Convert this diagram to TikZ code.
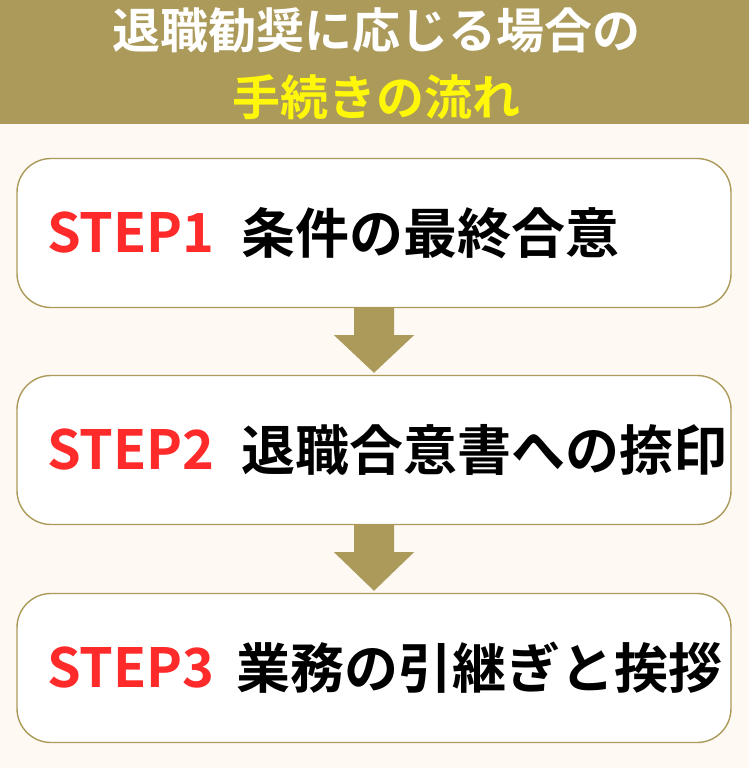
\documentclass[tikz,border=0pt]{standalone}
\usepackage{fontspec}
\setmainfont{Noto Sans CJK JP}[BoldFont={* Bold}]
\definecolor{gold}{HTML}{AB9A5A}
\definecolor{cream}{HTML}{FEF9F3}
\definecolor{stepred}{HTML}{FF2B2B}
\definecolor{titleyellow}{HTML}{FFF70A}
\tikzset{
	stepbox/.style={draw=gold,fill=white,line width=1.4pt,rounded corners=34pt,
		minimum width=714pt,minimum height=149pt,inner sep=0pt},
	steplabel/.style={anchor=west,inner sep=0pt,text=stepred,font=\fontsize{54}{54}\selectfont\bfseries},
	steptext/.style={anchor=west,inner sep=0pt,font=\fontsize{54}{54}\selectfont\bfseries},
	titletext/.style={inner sep=0pt,font=\fontsize{48}{48}\selectfont\bfseries}
}
\begin{document}
\begin{tikzpicture}[x=1pt,y=-1pt]
	\useasboundingbox (0,0) rectangle (749,768);
	\fill[cream] (0,0) rectangle (749,768);
	\fill[gold] (0,0) rectangle (749,124);
	\node[titletext,text=white] (title1) at (376,30) {退職勧奨に応じる場合の};
	\node[titletext,text=titleyellow] (title2) at (376,97) {手続きの流れ};
	% steps
	\node[stepbox] (s1) at (374,233) {};
	\node[stepbox] (s2) at (374,450) {};
	\node[stepbox] (s3) at (374,668) {};
	\node[steplabel] (l1) at ([xshift=31pt]s1.west) {STEP1};
	\node[steptext] (t1) at ([xshift=225pt]s1.west) {条件の最終合意};
	\node[steplabel] (l2) at ([xshift=31pt]s2.west) {STEP2};
	\node[steptext] (t2) at ([xshift=225pt]s2.west) {退職合意書への捺印};
	\node[steplabel] (l3) at ([xshift=31pt]s3.west) {STEP3};
	\node[steptext] (t3) at ([xshift=220pt]s3.west) {業務の引継ぎと挨拶};
	% arrows
	\foreach \a/\b in {s1/s2,s2/s3}{
		\fill[gold] ([xshift=-20pt]\a.south) -- ([xshift=20pt]\a.south)
			-- ([xshift=20pt,yshift=-27pt]\a.south) -- ([xshift=40pt,yshift=-27pt]\a.south)
			-- ([yshift=2pt]\b.north) -- ([xshift=-40pt,yshift=-27pt]\a.south)
			-- ([xshift=-20pt,yshift=-27pt]\a.south) -- cycle;
	}
\end{tikzpicture}
\end{document}
